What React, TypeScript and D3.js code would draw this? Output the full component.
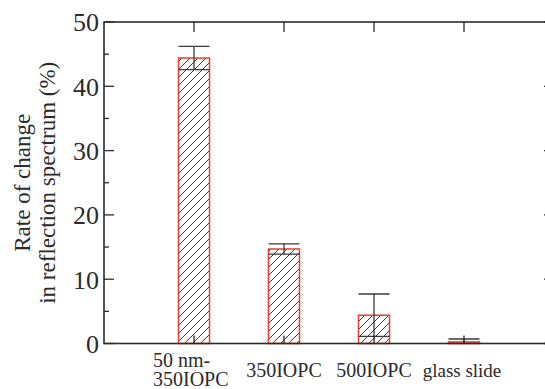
import React from 'react';
import * as d3 from 'd3';

const categories = [['50 nm-', '350IOPC'], ['350IOPC'], ['500IOPC'], ['glass slide']];
const means = [44.4, 14.7, 4.4, 0.25];
const errors = [1.8, 0.8, 3.3, 0.45];
const yTicks = [0, 10, 20, 30, 40, 50];
const yMinorTicks = [5, 15, 25, 35, 45];

const W = 545;
const H = 389;
const margin = { top: 22, left: 104, bottom: 45.5 };
const FONT = '"Liberation Serif", "Times New Roman", serif';
const INK = '#2b2b2b';

export default function App() {
  const x = d3.scaleLinear().domain([0, 5]).range([margin.left, margin.left + 450]);
  const y = d3.scaleLinear().domain([0, 50]).range([H - margin.bottom, margin.top]);
  const barW = x(0.345) - x(0);
  const x0 = x(0), x1 = x(5), y0 = y(0), y1 = y(50);

  return (
    <svg
      width={W}
      height={H}
      style={{ position: 'absolute', left: 0, top: 0, background: '#fff' }}
      fontFamily={FONT}
    >
      <defs>
        <pattern id="hatch" patternUnits="userSpaceOnUse" width={8} height={8}>
          <path d="M-1,1 l2,-2 M0,8 l8,-8 M7,9 l2,-2" stroke="#222" strokeWidth={0.9} />
        </pattern>
        <clipPath id="plot">
          <rect x={x0} y={y1} width={x1 - x0} height={y0 - y1} />
        </clipPath>
      </defs>

      {/* bars */}
      {means.map((m, i) => (
        <rect
          key={'bar' + i}
          x={x(i + 1) - barW / 2}
          y={y(m)}
          width={barW}
          height={y0 - y(m)}
          fill="url(#hatch)"
          stroke="#e8412f"
          strokeWidth={1.5}
        />
      ))}

      {/* error bars */}
      <g clipPath="url(#plot)" stroke="#3a3a3a" strokeWidth={1.3}>
        {means.map((m, i) => {
          const cx = x(i + 1);
          const hi = y(m + errors[i]);
          const lo = y(m - errors[i]);
          return (
            <g key={'err' + i}>
              <line x1={cx} x2={cx} y1={hi} y2={lo} />
              <line x1={cx - barW / 2} x2={cx + barW / 2} y1={hi} y2={hi} />
              <line x1={cx - barW / 2} x2={cx + barW / 2} y1={lo} y2={lo} />
            </g>
          );
        })}
      </g>

      {/* frame */}
      <rect x={x0} y={y1} width={x1 - x0} height={y0 - y1} fill="none" stroke={INK} strokeWidth={1.6} />

      {/* ticks */}
      <g stroke={INK} strokeWidth={1.3}>
        {yTicks.map((t) => (
          <g key={'yt' + t}>
            <line x1={x0} x2={x0 + 10} y1={y(t)} y2={y(t)} />
            <line x1={x1} x2={x1 - 10} y1={y(t)} y2={y(t)} />
          </g>
        ))}
        {yMinorTicks.map((t) => (
          <g key={'ym' + t}>
            <line x1={x0} x2={x0 + 5} y1={y(t)} y2={y(t)} />
            <line x1={x1} x2={x1 - 5} y1={y(t)} y2={y(t)} />
          </g>
        ))}
        {categories.map((_, i) => (
          <g key={'xt' + i}>
            <line x1={x(i + 1)} x2={x(i + 1)} y1={y0} y2={y0 - 8} />
            <line x1={x(i + 1)} x2={x(i + 1)} y1={y1} y2={y1 + 10} />
          </g>
        ))}
      </g>

      {/* y tick labels */}
      {yTicks.map((t) => (
        <text key={'yl' + t} x={x0 - 5} y={y(t)} dy="0.36em" textAnchor="end" fontSize={26} fill={INK}>
          {t}
        </text>
      ))}

      {/* x labels */}
      {categories.map((lines, i) =>
        lines.length > 1 ? (
          <text key={'xl' + i} x={x(i + 1) - 41} y={y0 + 23} textAnchor="start" fontSize={20} fill={INK}>
            {lines.map((l, j) => (
              <tspan key={j} x={x(i + 1) - 41} dy={j === 0 ? 0 : 19.5}>
                {l}
              </tspan>
            ))}
          </text>
        ) : (
          <text
            key={'xl' + i}
            x={x(i + 1) - (i === 3 ? 2 : 0)}
            y={y0 + 33}
            textAnchor="middle"
            fontSize={i === 3 ? 19 : 20}
            fill={INK}
          >
            {lines[0]}
          </text>
        )
      )}

      {/* y axis title */}
      <text
        transform={`translate(30, ${(y0 + y1) / 2}) rotate(-90)`}
        textAnchor="middle"
        fontSize={23}
        fill={INK}
      >
        <tspan x={0} dy={0}>Rate of change</tspan>
        <tspan x={0} dy={25}>in reflection spectrum (%)</tspan>
      </text>
    </svg>
  );
}
